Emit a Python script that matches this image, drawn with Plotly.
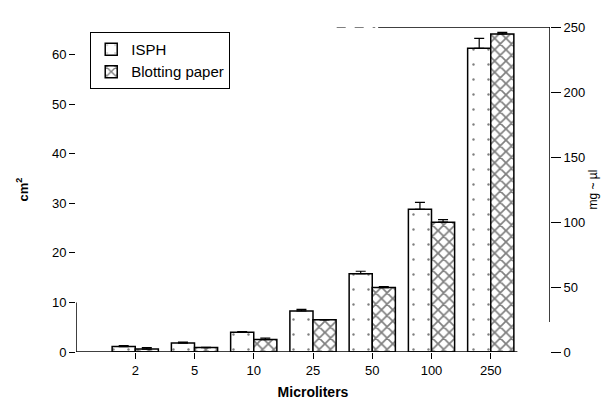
import plotly.graph_objects as go

categories = ["2", "5", "10", "25", "50", "100", "250"]
isph = [1.1, 1.8, 4.0, 8.3, 15.8, 28.8, 61.3]
isph_err = [0.2, 0.2, 0.1, 0.3, 0.5, 1.4, 2.0]
blot = [0.6, 0.9, 2.5, 6.5, 13.0, 26.2, 64.2]
blot_err = [0.3, 0.05, 0.3, 0.05, 0.2, 0.5, 0.3]
left_ticks = [0, 10, 20, 30, 40, 50, 60]
right_ticks = [0, 50, 100, 150, 200, 250]

FONT = "Liberation Sans"

fig = go.Figure()
fig.add_trace(go.Bar(
    name="ISPH", x=categories, y=isph,
    marker=dict(color="white", line=dict(color="black", width=1.5),
                pattern=dict(shape=".", fgcolor="black", bgcolor="white", size=15, solidity=0.02)),
    error_y=dict(type="data", array=isph_err, arrayminus=[0]*len(isph_err),
                 color="black", thickness=1.2, width=5),
))
fig.add_trace(go.Bar(
    name="Blotting paper", x=categories, y=blot,
    marker=dict(color="white", line=dict(color="black", width=1.5),
                pattern=dict(shape="x", fgcolor="black", bgcolor="white", size=8, solidity=0.38)),
    error_y=dict(type="data", array=blot_err, arrayminus=[0]*len(blot_err),
                 color="black", thickness=1.2, width=5),
))
# invisible trace to activate the right axis
fig.add_trace(go.Scatter(x=categories, y=[None]*len(categories), yaxis="y2",
                         showlegend=False, hoverinfo="skip"))

fig.update_layout(
    width=610, height=401,
    margin=dict(l=68, r=68, t=17, b=54),
    paper_bgcolor="white", plot_bgcolor="white",
    barmode="group", bargap=0.22, bargroupgap=0,
    font=dict(family=FONT, size=13, color="black"),
    showlegend=True,
    legend=dict(x=0.03, y=0.985, xanchor="left", yanchor="top",
                bordercolor="black", borderwidth=1, bgcolor="white",
                font=dict(family=FONT, size=15), tracegroupgap=0),
    xaxis=dict(type="category", range=[-1, 7], showline=False, showgrid=False,
               ticks="outside", ticklen=6, tickcolor="black", tickwidth=1.2,
               tickfont=dict(size=13),
               title=dict(text="<b>Microliters</b>", font=dict(size=14), standoff=10)),
    yaxis=dict(range=[0, 65.6], tickvals=left_ticks, showgrid=False, showline=False,
               zeroline=False, ticks="outside", ticklen=6, tickcolor="black",
               tickfont=dict(size=13),
               title=dict(text="<b>cm<sup>2</sup></b>", font=dict(size=13), standoff=20)),
    yaxis2=dict(range=[0, 250], tickvals=right_ticks, overlaying="y", side="right",
                showgrid=False, showline=False, zeroline=False, ticks="outside",
                ticklen=10, tickcolor="black", tickfont=dict(size=13),
                title=dict(text="mg ~ µl", font=dict(size=12), standoff=4)),
    shapes=[
        dict(type="line", xref="x", yref="y", x0=-1, x1=6.45, y0=0, y1=0,
             line=dict(color="black", width=1.5)),
        dict(type="line", xref="x", yref="y", x0=-1, x1=-1, y0=0, y1=10,
             line=dict(color="black", width=1.5)),
        dict(type="line", xref="x", yref="y2", x0=7, x1=7, y0=23, y1=250,
             line=dict(color="black", width=1.5)),
        dict(type="line", xref="x", yref="y2", x0=4.1, x1=7, y0=250, y1=250,
             line=dict(color="black", width=1.5)),
        dict(type="line", xref="x", yref="y2", x0=3.4, x1=4.05, y0=250, y1=250,
             line=dict(color="black", width=1, dash="dash")),
    ],
)

fig.write_html("out.html")
